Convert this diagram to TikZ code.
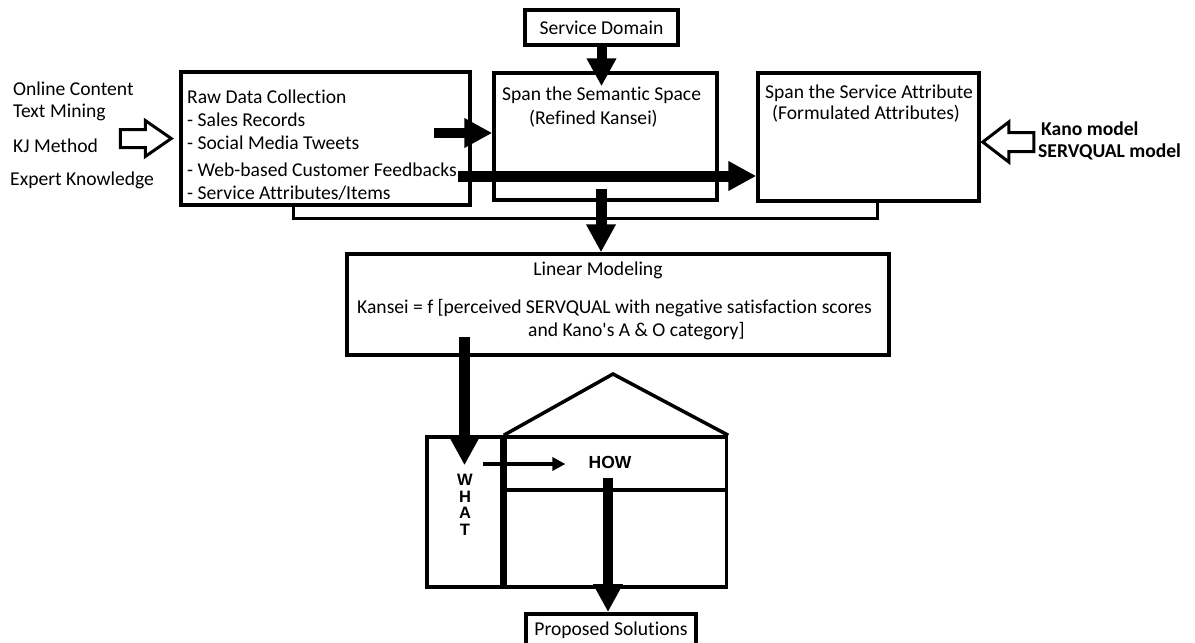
\documentclass[tikz,border=0pt]{standalone}
\usepackage{fontspec}
\setmainfont{Carlito}[Ligatures={TeX,NoCommon}]
\newfontfamily\arialfont{Liberation Sans}
\usetikzlibrary{arrows.meta,positioning}
\begin{document}
\begin{tikzpicture}
    [x=1pt,y=-1pt
    ,every node/.style={font=\fontsize{19.6}{23}\selectfont,inner sep=0pt}
    ,box/.style={draw,line width=3.5pt}
    ,lbl/.style={anchor=west}
    ,bold/.style={font=\fontsize{19.6}{23}\selectfont\bfseries}
    ,fat/.style={line width=11pt,-{Triangle[length=28pt,width=28pt]}}
    ,hollow/.style={draw,line width=3pt,line join=miter}
    ]

    \useasboundingbox (0,0) rectangle (1195,643);

    \node[box,minimum width=289pt,minimum height=133pt] (raw) at (325.5,138.5) {};
    \node[box,minimum width=223pt,minimum height=127pt] (sem) at (605.5,136.5) {};
    \node[box,minimum width=221pt,minimum height=128pt] (attr) at (868.5,137) {};
    \node[box,minimum width=153pt,minimum height=35pt] (dom) at (601.5,27.5) {Service Domain};
    \node[box,minimum width=542pt,minimum height=101pt] (lin) at (618,304.5) {};
    \node[box,minimum width=75pt,minimum height=150pt] (what) at (464.5,512) {};
    \node[box,minimum width=221pt,minimum height=150pt,anchor=west] (how) at (what.east) {};
    \node[box,minimum width=170pt,minimum height=34pt,anchor=north] (prop) at (611,612) {Proposed Solutions};

    \node[lbl] (t1) at (13,89) {Online Content};
    \node[lbl] (t2) at (13,112) {Text Mining};
    \node[lbl] (t3) at (13,146) {KJ Method};
    \node[lbl] (t4) at (10,180) {Expert Knowledge};

    \node[lbl] (r1) at (187,97) {Raw Data Collection};
    \node[lbl] (r2) at (187,120) {- Sales Records};
    \node[lbl] (r3) at (187,143) {- Social Media Tweets};
    \node[lbl] (r4) at (187,170) {- Web-based Customer Feedbacks};
    \node[lbl] (r5) at (187,193) {- Service Attributes/Items};

    \node[lbl] (s1) at (502,95) {Span the Semantic Space};
    \node[lbl] (s2) at (529,119) {(Refined Kansei)};
    \node[lbl] (a1) at (765,93) {Span the Service Attribute};
    \node[lbl] (a2) at (772,114) {(Formulated Attributes)};
    \node[lbl,bold] (k1) at (1041,129) {Kano model};
    \node[lbl,bold] (k2) at (1038,152) {SERVQUAL model};

    \node (l1) at (598,270) {Linear Modeling};
    \node[lbl] (l2) at (357,308) {Kansei = f [perceived SERVQUAL with negative satisfaction scores};
    \node[lbl] (l3) at (528,331) {and Kano\textquotesingle s A \& O category]};

    \node[font=\arialfont\fontsize{16.5}{16.5}\selectfont\bfseries,align=center] (wht) at (465,505) {W\\H\\A\\T};
    \node[font=\arialfont\fontsize{17.5}{20}\selectfont\bfseries] (howtxt) at (610,462) {HOW};

    \draw[line width=3.5pt] (how.west |- 0,490) -- (how.east |- 0,490);
    \draw[line width=3.5pt,line join=miter] (how.north west) -- (613,374) -- (how.north east);

    \draw[hollow] ([xshift=-8pt]raw.west) -- ++(-26,-18) -- ++(0,9) -- ++(-25,0) -- ++(0,18) -- ++(25,0) -- ++(0,9) -- cycle;
    \draw[hollow] ([xshift=2pt,yshift=-5pt]attr.east) -- ++(26,-20) -- ++(0,10.5) -- ++(25,0) -- ++(0,19) -- ++(-25,0) -- ++(0,10.5) -- cycle;

    \draw[line width=3pt] (raw.south -| 293,0) -- ++(0,12) -| (attr.south -| 877,0);

    \coordinate (rs) at (434,133);
    \coordinate (fs) at (458,176);
    \draw[fat,line width=10pt,shorten >=-15pt] (dom.south) -- (dom.south |- sem.north);
    \draw[fat,line width=10pt] (rs) -- (sem.west |- rs);
    \draw[fat] (fs) -- (attr.west |- fs);
    \draw[fat,shorten <=-13pt] (sem.south -| 601,0) -- (lin.north -| 601,0);
    \draw[fat,shorten <=-20pt,shorten >=-30pt] (lin.south -| what.north) -- (what.north);

    \coordinate (w0) at (483,464);
    \draw[line width=4pt,-{Triangle[length=13pt,width=13pt]},shorten >=23pt] (w0) -- (howtxt.west |- w0);
    \draw[fat,line width=10pt,shorten <=10pt] (howtxt.south -| 608,0) -- (prop.north -| 608,0);

  \end{tikzpicture}
\end{document}
